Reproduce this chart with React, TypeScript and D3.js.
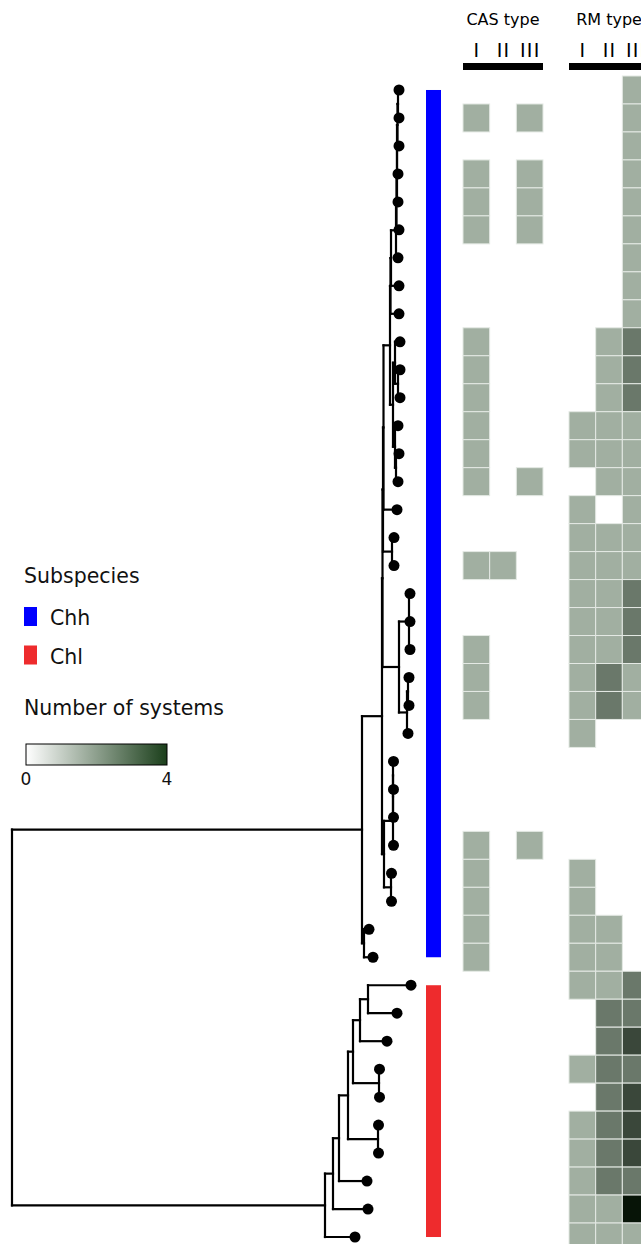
import React, { useMemo } from "react";
import * as d3 from "d3";

const WIDTH = 641;
const HEIGHT = 1244;

// Core-genome phylogeny of the isolates (Newick, branch lengths in substitutions/site)
const treeNewick =
  "((((((((" +
  "(((((((T00:0.001,T01:0.001):0.0005,T02:0.0015):0.0005,T03:0.001):0,T04:0.001):0.0005,T05:0.0025):0.0005,T06:0.002):0.005,T07:0.008):0.0005," +
  "T08:0.0085):0.0005," +
  "((T09:0.005,(T10:0.002,T11:0.002):0.003):0.002,(T12:0.003,(T13:0.003,T14:0.002):0.001):0.002):0.003" +
  "):0.0065,T15:0.0135" +
  "):0.0005,(T16:0.002,T17:0.002):0.009" +
  "):0.0005,((T18:0.001,T19:0.001,T20:0.001):0.010,((T21:0.001,T22:0.001):0.001,T23:0.001):0.008):0.0165" +
  "):0.0005,((((T24:0.0005,T25:0.0005):0,T26:0.0005):0,T27:0.0005):0.009,(T28:0.0005,T29:0.0005):0.007):0.002" +
  "):0.020,(T30:0.005,T31:0.009):0.002" +
  "):0.350," +
  "(((((((T32:0.043,T33:0.029):0.008,T34:0.027):0.007,(T35:0.0005,T36:0.0005):0.026):0.005,(T37:0.0005,T38:0.0005):0.030):0.009,T39:0.028):0.006,T40:0.035):0.008,T41:0.030):0.313" +
  ");";

// Subspecies of each isolate, in tree order
const subspecies = [
  "Chh", "Chh", "Chh", "Chh", "Chh", "Chh", "Chh", "Chh", "Chh", "Chh",
  "Chh", "Chh", "Chh", "Chh", "Chh", "Chh", "Chh", "Chh", "Chh", "Chh",
  "Chh", "Chh", "Chh", "Chh", "Chh", "Chh", "Chh", "Chh", "Chh", "Chh",
  "Chh", "Chh",
  "Chl", "Chl", "Chl", "Chl", "Chl", "Chl", "Chl", "Chl", "Chl", "Chl",
];
const subspeciesNames = ["Chh", "Chl"];
const subspeciesColors = ["#0000ff", "#ee2b2d"];

// Number of CRISPR-Cas systems per isolate, by type
const casTypes = ["I", "II", "III"];
const casI = [0, 1, 0, 1, 1, 1, 0, 0, 0, 1, 1, 1, 1, 1, 1, 0, 0, 1, 0, 0, 1, 1, 1, 0, 0, 0, 0, 1, 1, 1, 1, 1, 0, 0, 0, 0, 0, 0, 0, 0, 0, 0];
const casII = [0, 0, 0, 0, 0, 0, 0, 0, 0, 0, 0, 0, 0, 0, 0, 0, 0, 1, 0, 0, 0, 0, 0, 0, 0, 0, 0, 0, 0, 0, 0, 0, 0, 0, 0, 0, 0, 0, 0, 0, 0, 0];
const casIII = [0, 1, 0, 1, 1, 1, 0, 0, 0, 0, 0, 0, 0, 0, 1, 0, 0, 0, 0, 0, 0, 0, 0, 0, 0, 0, 0, 1, 0, 0, 0, 0, 0, 0, 0, 0, 0, 0, 0, 0, 0, 0];

// Number of restriction-modification systems per isolate, by type
const rmTypes = ["I", "II", "III"];
const rmI = [0, 0, 0, 0, 0, 0, 0, 0, 0, 0, 0, 0, 1, 1, 0, 1, 1, 1, 1, 1, 1, 1, 1, 1, 0, 0, 0, 0, 1, 1, 1, 1, 1, 0, 0, 1, 0, 1, 1, 1, 1, 1];
const rmII = [0, 0, 0, 0, 0, 0, 0, 0, 0, 1, 1, 1, 1, 1, 1, 0, 1, 1, 1, 1, 1, 2, 2, 0, 0, 0, 0, 0, 0, 0, 1, 1, 1, 2, 2, 2, 2, 2, 2, 2, 1, 1];
const rmIII = [1, 1, 1, 1, 1, 1, 1, 1, 1, 2, 2, 2, 1, 1, 1, 1, 1, 1, 2, 2, 2, 1, 1, 0, 0, 0, 0, 0, 0, 0, 0, 0, 2, 2, 3, 2, 3, 3, 3, 2, 4, 1];

const countDomain = [0, 4];
const countLevels = [1, 2, 3, 4];
const countColors = ["#a1afa1", "#6a786a", "#3a473a", "#071407"];

type PNode = { name: string; length: number; children: PNode[] };

function parseNewick(s: string): PNode {
  let i = 0;
  const read = (): PNode => {
    const n: PNode = { name: "", length: 0, children: [] };
    if (s[i] === "(") {
      i++;
      n.children.push(read());
      while (s[i] === ",") {
        i++;
        n.children.push(read());
      }
      i++;
    }
    let name = "";
    while (i < s.length && !",():;".includes(s[i])) name += s[i++];
    n.name = name.trim();
    if (s[i] === ":") {
      i++;
      let num = "";
      while (i < s.length && !",();".includes(s[i])) num += s[i++];
      n.length = parseFloat(num);
    }
    return n;
  };
  return read();
}

export default function App() {
  const layout = useMemo(() => {
    const root = d3.hierarchy(parseNewick(treeNewick), (d) =>
      d.children.length ? d.children : null
    ) as any;
    root.eachBefore((n: any) => {
      n.dist = n.parent ? n.parent.dist + n.data.length : 0;
    });
    const leaves = root.leaves();
    const ids = leaves.map((l: any) => l.data.name);

    const y = d3.scaleBand<string>().domain(ids).range([76, 1251]);
    const x = d3
      .scaleLinear()
      .domain([0, d3.max(leaves, (l: any) => l.dist) as number])
      .range([12, 411]);

    leaves.forEach((l: any) => {
      l.py = (y(l.data.name) as number) + y.bandwidth() / 2;
    });
    root.eachAfter((n: any) => {
      if (n.children) n.py = d3.mean(n.children, (c: any) => c.py);
      n.px = x(n.dist);
    });

    const links: string[] = [];
    root.each((n: any) => {
      if (!n.children) return;
      const first = n.children[0];
      const last = n.children[n.children.length - 1];
      links.push(`M${n.px},${first.py}V${last.py}`);
      n.children.forEach((c: any) => links.push(`M${n.px},${c.py}H${c.px}`));
    });

    return { root, leaves, ids, y, links };
  }, []);

  const { leaves, ids, y, links } = layout;
  const band = y.bandwidth();

  const casX = d3.scaleBand<string>().domain(casTypes).range([463, 543]);
  const rmX = d3.scaleBand<string>().domain(rmTypes).range([569, 649]);
  const color = d3.scaleOrdinal<number, string>().domain(countLevels).range(countColors);
  const gradient = d3.interpolateRgb("#ffffff", "#1b3f1b");
  const legendX = d3.scaleLinear().domain(countDomain).range([26, 167]);

  const casRows = [casI, casII, casIII];
  const rmRows = [rmI, rmII, rmIII];

  const cells: { key: string; x: number; y: number; w: number; v: number }[] = [];
  ids.forEach((id: string, i: number) => {
    casTypes.forEach((t, k) => {
      const v = casRows[k][i];
      if (v > 0) cells.push({ key: `c${i}${t}`, x: casX(t) as number, y: y(id) as number, w: casX.bandwidth(), v });
    });
    rmTypes.forEach((t, k) => {
      const v = rmRows[k][i];
      if (v > 0) cells.push({ key: `r${i}${t}`, x: rmX(t) as number, y: y(id) as number, w: rmX.bandwidth(), v });
    });
  });

  // contiguous runs of one subspecies for the annotation bar
  const runs: { name: string; y0: number; y1: number }[] = [];
  leaves.forEach((l: any, i: number) => {
    const s = subspecies[i];
    const last = runs[runs.length - 1];
    if (last && last.name === s) last.y1 = l.py;
    else runs.push({ name: s, y0: l.py, y1: l.py });
  });
  const subColor = d3.scaleOrdinal<string, string>().domain(subspeciesNames).range(subspeciesColors);

  const stops = d3.range(0, 1.0001, 0.25);

  return (
    <svg
      width={WIDTH}
      height={HEIGHT}
      style={{ position: "absolute", left: 0, top: 0, background: "#fff" }}
      fontFamily="'DejaVu Sans', sans-serif"
    >
      <defs>
        <linearGradient id="countGradient" x1="0" x2="1" y1="0" y2="0">
          {stops.map((s) => (
            <stop key={s} offset={s} stopColor={gradient(s)} />
          ))}
        </linearGradient>
      </defs>

      {/* tree */}
      <g stroke="#000" strokeWidth={2.2} fill="none" strokeLinecap="square">
        {links.map((d, i) => (
          <path key={i} d={d} />
        ))}
      </g>
      <g fill="#000">
        {leaves.map((l: any) => (
          <circle key={l.data.name} cx={l.px} cy={l.py} r={5.5} />
        ))}
      </g>

      {/* subspecies bar */}
      {runs.map((r) => (
        <rect key={r.name} x={426} y={r.y0} width={15} height={r.y1 - r.y0} fill={subColor(r.name)} />
      ))}

      {/* heatmap headers */}
      <g fill="#000" textAnchor="middle">
        <text x={503} y={25} fontSize={16}>CAS type</text>
        <text x={609} y={25} fontSize={16}>RM type</text>
        {casTypes.map((t) => (
          <text key={"ct" + t} x={(casX(t) as number) + casX.bandwidth() / 2 + 0.6} y={57} fontSize={19} letterSpacing={1.2}>{t}</text>
        ))}
        {rmTypes.map((t) => (
          <text key={"rt" + t} x={(rmX(t) as number) + rmX.bandwidth() / 2 + 0.6} y={57} fontSize={19} letterSpacing={1.2}>{t}</text>
        ))}
      </g>
      <rect x={463} y={63} width={80} height={7} fill="#000" />
      <rect x={569} y={63} width={80} height={7} fill="#000" />

      {/* heatmap cells */}
      <g stroke="#e4e9e4" strokeWidth={1}>
        {cells.map((c) => (
          <rect key={c.key} x={c.x} y={c.y} width={c.w} height={band} fill={color(c.v)} />
        ))}
      </g>

      {/* legends */}
      <g fill="#111" fontSize={20.5}>
        <text x={24} y={583}>Subspecies</text>
        {subspeciesNames.map((s, i) => (
          <g key={s}>
            <rect x={24} y={607 + i * 38.5} width={13} height={19} fill={subColor(s)} />
            <text x={50} y={625 + i * 38.5}>{s}</text>
          </g>
        ))}
        <text x={24} y={715}>Number of systems</text>
      </g>
      <rect x={legendX(0)} y={744} width={legendX(4) - legendX(0)} height={21} fill="url(#countGradient)" stroke="#000" strokeWidth={1} />
      <g fill="#111" fontSize={17} textAnchor="middle">
        {countDomain.map((v) => (
          <text key={v} x={legendX(v)} y={785}>{v}</text>
        ))}
      </g>
    </svg>
  );
}
